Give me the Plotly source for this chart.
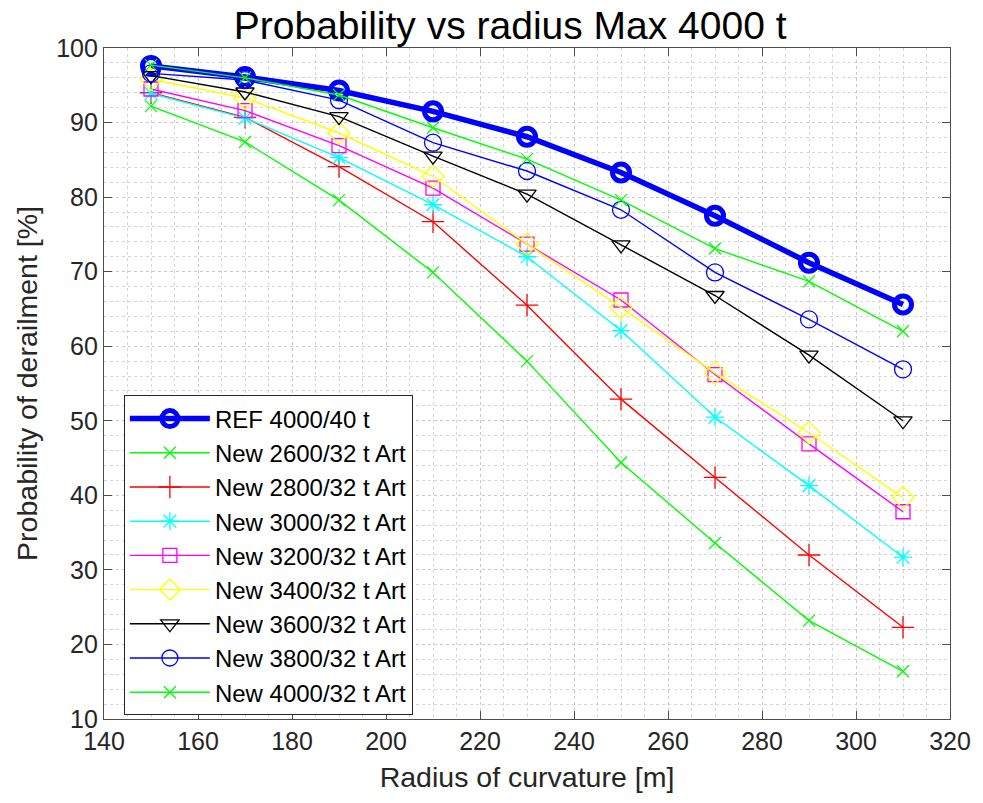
import plotly.graph_objects as go

radius = [150, 170, 190, 210, 230, 250, 270, 290, 310]

series_names = [
    "REF 4000/40 t",
    "New 2600/32 t Art",
    "New 2800/32 t Art",
    "New 3000/32 t Art",
    "New 3200/32 t Art",
    "New 3400/32 t Art",
    "New 3600/32 t Art",
    "New 3800/32 t Art",
    "New 4000/32 t Art",
]

ref_4000_40 = [97.6, 96.1, 94.3, 91.5, 88.1, 83.3, 77.5, 71.2, 65.6]
new_2600 = [92.2, 87.4, 79.6, 69.9, 58.0, 44.4, 33.6, 23.2, 16.4]
new_2800 = [94.0, 90.7, 84.1, 76.7, 65.5, 52.9, 42.4, 32.0, 22.3]
new_3000 = [93.9, 90.6, 85.3, 79.0, 72.0, 62.1, 50.5, 41.3, 31.7]
new_3200 = [94.5, 91.6, 86.9, 81.2, 73.7, 66.2, 56.2, 46.9, 37.8]
new_3400 = [95.8, 93.3, 88.6, 82.8, 73.7, 65.2, 56.4, 48.4, 39.7]
new_3600 = [96.3, 94.1, 90.8, 85.5, 80.4, 73.6, 66.8, 58.8, 50.0]
new_3800 = [96.6, 95.7, 93.0, 87.3, 83.5, 78.3, 69.9, 63.6, 56.9]
new_4000 = [97.7, 96.0, 93.7, 89.3, 85.1, 79.6, 73.1, 68.7, 62.0]

values = [ref_4000_40, new_2600, new_2800, new_3000, new_3200,
          new_3400, new_3600, new_3800, new_4000]

colors = ["#0000FF", "#00FF00", "#FF0000", "#00FFFF", "#FF00FF",
          "#FFFF00", "#000000", "#0000FF", "#00FF00"]
symbols = ["circle-open", "x-thin-open", "cross-thin-open", "asterisk-open",
           "square-open", "diamond-open", "triangle-down-open", "circle-open",
           "x-thin-open"]
sizes = [17, 12, 16, 15, 14, 17, 16, 17, 12]

FONT = "Liberation Sans, Arial, Helvetica, sans-serif"

fig = go.Figure()
for i, (name, ys) in enumerate(zip(series_names, values)):
    ref = i == 0
    fig.add_trace(go.Scatter(
        x=radius, y=ys, name=name, mode="lines+markers",
        line=dict(color=colors[i], width=5.5 if ref else 1.4),
        marker=dict(symbol=symbols[i], size=sizes[i], color=colors[i],
                    line=dict(color=colors[i], width=5 if ref else 1.3)),
    ))

axis_common = dict(
    showline=True, linecolor="#4d4d4d", linewidth=1.2, mirror="ticks",
    ticks="inside", ticklen=8, tickcolor="#4d4d4d", tickwidth=1.2,
    showgrid=True, gridcolor="#c8c8c8", griddash="dot", gridwidth=1,
    zeroline=False,
    tickfont=dict(family=FONT, size=25, color="#262626"),
)

fig.update_xaxes(
    range=[140, 320], dtick=20, tick0=140,
    minor=dict(dtick=5, showgrid=True, gridcolor="#d6d6d6", griddash="dot", gridwidth=1),
    title=dict(text="Radius of curvature [m]", font=dict(family=FONT, size=28.5, color="#262626"), standoff=12),
    **axis_common,
)
fig.update_yaxes(
    range=[10, 100], dtick=10, tick0=10,
    minor=dict(dtick=2, showgrid=True, gridcolor="#d6d6d6", griddash="dot", gridwidth=1),
    title=dict(text="Probability of derailment [%]", font=dict(family=FONT, size=28.5, color="#262626"), standoff=10),
    **axis_common,
)

fig.update_layout(
    width=983, height=803,
    paper_bgcolor="white", plot_bgcolor="white",
    margin=dict(l=104, r=27, t=48, b=84),
    title=dict(text="Probability vs radius Max 4000 t", x=0.519, xanchor="center",
               y=0.969, yanchor="middle",
               font=dict(family=FONT, size=39, color="#000000")),
    showlegend=True,
    legend=dict(
        x=0.0235, y=0.2437, xanchor="left", yanchor="middle",
        bgcolor="white", bordercolor="#262626", borderwidth=1,
        font=dict(family=FONT, size=24, color="#000000"),
        itemwidth=80, tracegroupgap=0,
    ),
)

fig.write_html("out.html")
